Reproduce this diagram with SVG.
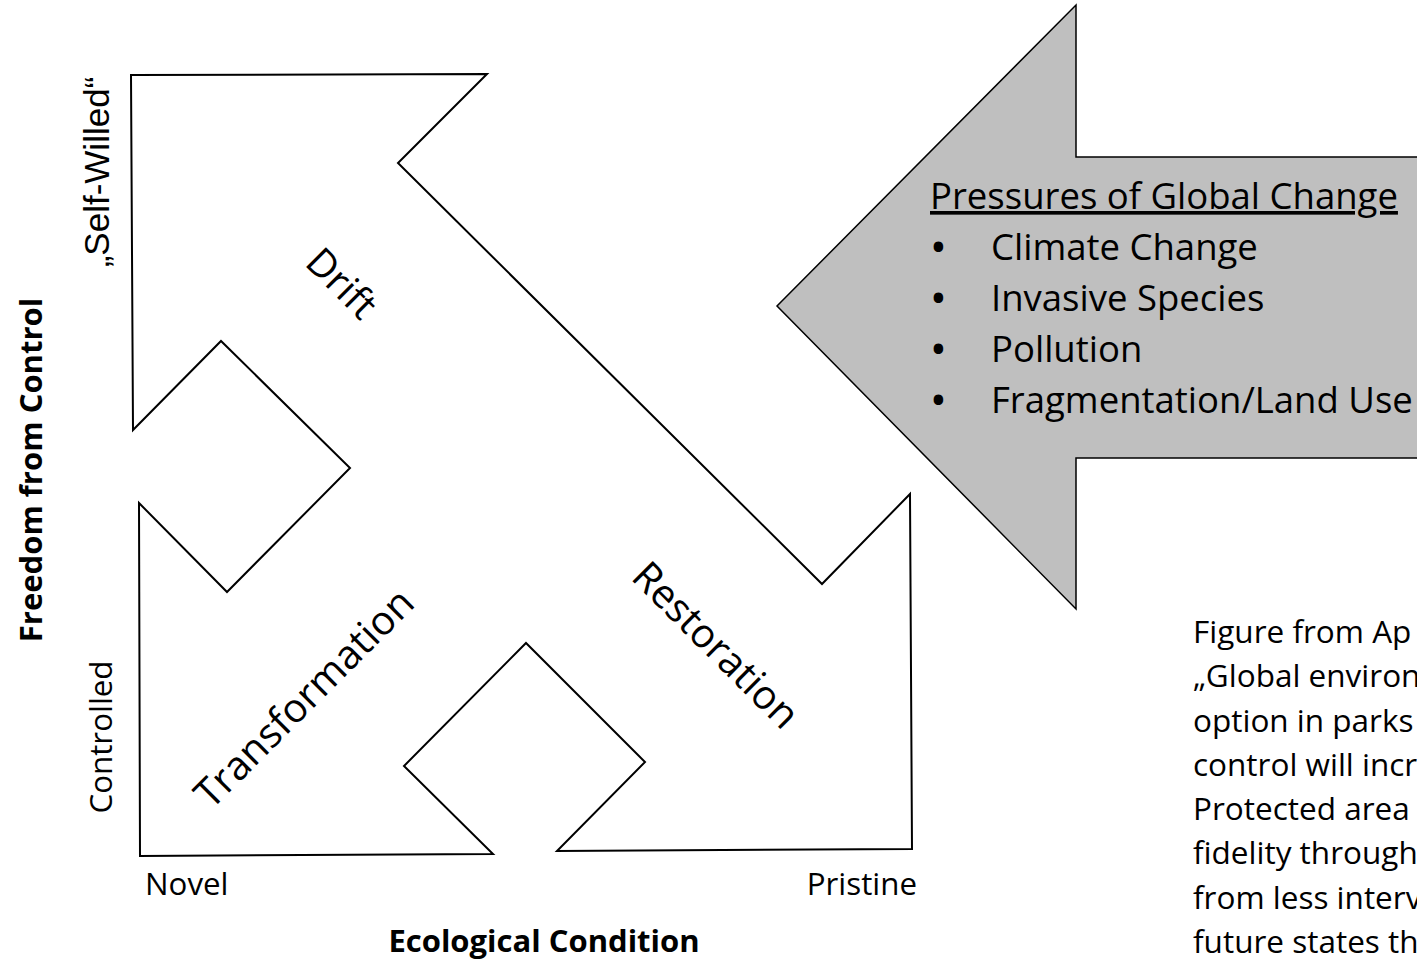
<svg xmlns="http://www.w3.org/2000/svg" width="1417" height="962" viewBox="0 0 1417 962">
<style>
.t{font-family:"Open Sans","Liberation Sans",sans-serif;fill:#000}
.b{font-family:"Open Sans","Liberation Sans",sans-serif;font-weight:bold;fill:#000}
.a{font-family:"Liberation Sans",Arial,sans-serif;fill:#000}
.shape{fill:#fff;stroke:#000;stroke-width:2;stroke-linejoin:miter;stroke-miterlimit:20}
.gray{fill:#bfbfbf;stroke:#000;stroke-width:1.5;stroke-miterlimit:20}
</style>
<rect width="1417" height="962" fill="#fff"/>
<g id="arrows">
<polygon class="shape" points="131,75 487,74 398,163 822,584 910,494 912,849 557,851 645,762 526,643 404,766 493,854 140,856 139,503 227,592 350,468 221,341 133,430"/>
</g>
<g id="drift"><text class="t" font-size="39" text-anchor="middle" transform="translate(342,283) rotate(45)" y="14">Drift</text></g>
<g id="transformation"><text class="t" font-size="40" text-anchor="middle" transform="translate(304,698) rotate(-45)" y="14">Transformation</text></g>
<g id="restoration"><text class="t" font-size="40" text-anchor="middle" transform="translate(716,645) rotate(45)" y="14">Restoration</text></g>
<g id="pressures">
<polygon class="gray" points="1076,5 1076,157 1422,157 1422,458 1076,458 1076,609 777,306"/>
<text class="t" font-size="36.5" x="930" y="209" text-decoration="underline">Pressures of Global Change</text>
<text class="b" font-size="34" x="932" y="259">•</text><text class="t" font-size="36.5" x="991" y="260">Climate Change</text>
<text class="b" font-size="34" x="932" y="310">•</text><text class="t" font-size="36.5" x="991" y="311">Invasive Species</text>
<text class="b" font-size="34" x="932" y="361">•</text><text class="t" font-size="36.5" x="991" y="362">Pollution</text>
<text class="b" font-size="34" x="932" y="412">•</text><text class="t" font-size="36.5" x="991" y="413">Fragmentation/Land Use</text>
</g>
<g id="axes">
<text class="b" font-size="31" text-anchor="middle" transform="translate(42,470) rotate(-90)">Freedom from Control</text>
<text class="a" font-size="35" text-anchor="middle" transform="translate(109,172) rotate(-90)">„Self-Willed“</text>
<text class="t" font-size="31.3" text-anchor="middle" transform="translate(112,737) rotate(-90)">Controlled</text>
<text class="t" font-size="31.3" x="145" y="895">Novel</text>
<text class="t" font-size="31.3" x="917" y="895" text-anchor="end">Pristine</text>
<text class="b" font-size="31" x="544" y="952" text-anchor="middle">Ecological Condition</text>
</g>
<g id="caption">
<text class="t" font-size="31.5" x="1193" y="643">Figure from Ap</text>
<text class="t" font-size="31.5" x="1193" y="687">„Global environ</text>
<text class="t" font-size="31.5" x="1193" y="732">option in parks</text>
<text class="t" font-size="31.5" x="1193" y="776">control will incr</text>
<text class="t" font-size="31.5" x="1193" y="820">Protected area</text>
<text class="t" font-size="31.5" x="1193" y="864">fidelity through</text>
<text class="t" font-size="31.5" x="1193" y="909">from less interv</text>
<text class="t" font-size="31.5" x="1193" y="953">future states th</text>
</g>
</svg>
